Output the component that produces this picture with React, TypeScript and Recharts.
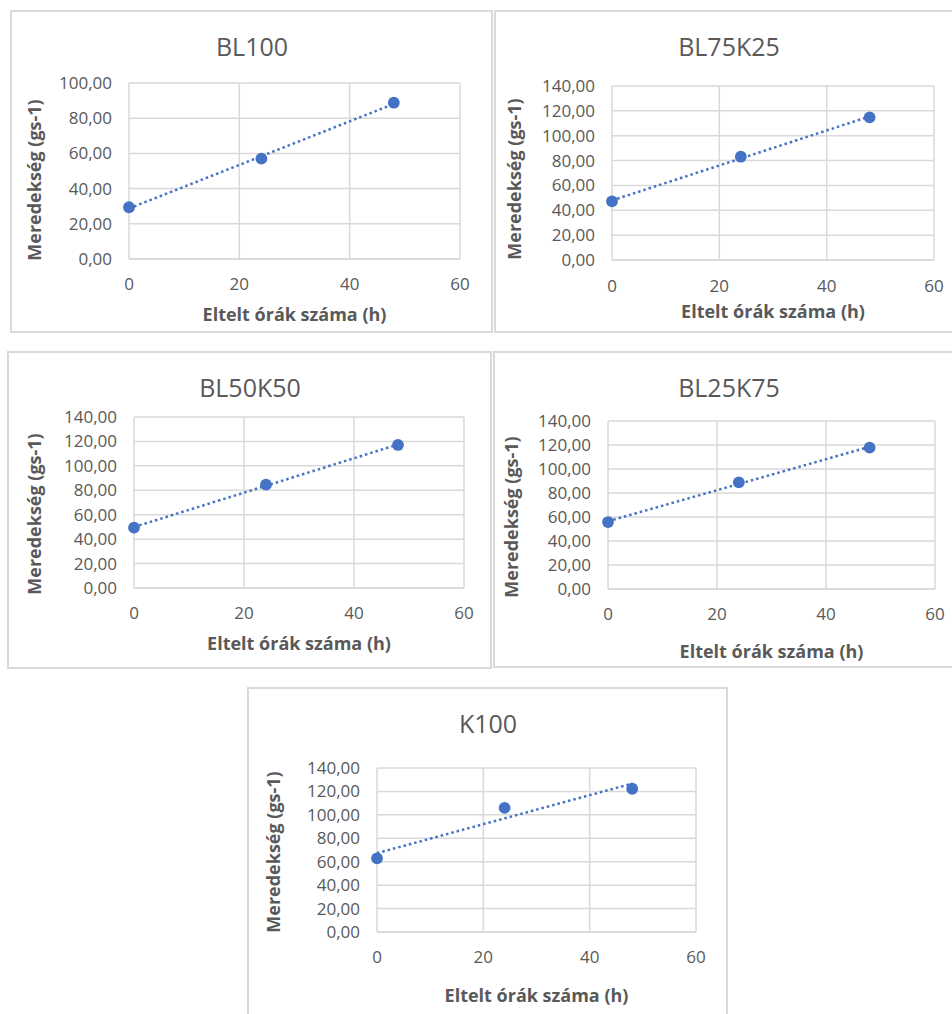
import React from "react";
import { ScatterChart, Scatter, XAxis, YAxis, CartesianGrid } from "recharts";

// Elapsed hours and measured slopes per blend
const hours = [0, 24, 48];
const bl100 = [29.4, 57.0, 88.8];
const bl75k25 = [47.2, 83.1, 114.8];
const bl50k50 = [49.4, 84.6, 117.1];
const bl25k75 = [55.8, 88.9, 117.8];
const k100 = [62.9, 105.9, 122.3];

// Linear trendline values at the first and last hour
const trendHours = [0, 48];
const bl100Trend = [28.7, 88.1];
const bl75k25Trend = [47.9, 115.5];
const bl50k50Trend = [49.9, 117.5];
const bl25k75Trend = [56.5, 118.5];
const k100Trend = [67.3, 126.7];

const xTicks = [0, 20, 40, 60];
const yTicks100 = [0, 20, 40, 60, 80, 100];
const yTicks140 = [0, 20, 40, 60, 80, 100, 120, 140];

const xTitle = "Eltelt órák száma (h)";
const yTitle = "Meredekség (gs-1)";

const BLUE = "#4472C4";
const GREY = "#595959";
const GRID = "#D9D9D9";
const FONT = "'Open Sans', sans-serif";

const Y_AXIS_W = 80;
const X_AXIS_H = 40;

type Rect = { x: number; y: number; w: number; h: number };

type Props = {
  title: string;
  values: number[];
  trend: number[];
  yTicks: number[];
  frame: Rect;
  plot: Rect;
  titlePos: [number, number];
  xTitleY: number;
  yLabelPos: [number, number];
  xTickGap?: number;
};

const fmt = (v: number) => v.toFixed(2).replace(".", ",");

function Panel({ title, values, trend, yTicks, frame, plot, titlePos, xTitleY, yLabelPos, xTickGap = 19 }: Props) {
  const points = hours.map((h, i) => ({ x: h, y: values[i] }));
  const trendPts = trendHours.map((h, i) => ({ x: h, y: trend[i] }));
  const margin = {
    top: plot.y - frame.y,
    left: plot.x - frame.x - Y_AXIS_W,
    right: frame.x + frame.w - (plot.x + plot.w),
    bottom: frame.y + frame.h - (plot.y + plot.h) - X_AXIS_H,
  };
  const tick = { fontSize: 17, fill: GREY, fontFamily: FONT };
  const textStyle = {
    position: "absolute" as const,
    fontFamily: FONT,
    lineHeight: 1,
    color: GREY,
    whiteSpace: "nowrap" as const,
  };
  return (
    <>
      <div
        style={{
          position: "absolute",
          left: frame.x,
          top: frame.y,
          width: frame.w,
          height: frame.h,
          border: `2px solid ${GRID}`,
          boxSizing: "border-box",
          background: "#fff",
        }}
      />
      <div style={{ position: "absolute", left: frame.x, top: frame.y }}>
        <ScatterChart width={frame.w} height={frame.h} margin={margin}>
          <CartesianGrid stroke={GRID} strokeWidth={1.5} />
          <XAxis
            type="number"
            dataKey="x"
            domain={[0, 60]}
            ticks={xTicks}
            height={X_AXIS_H}
            tick={tick}
            tickLine={false}
            tickSize={0}
            tickMargin={xTickGap}
            axisLine={{ stroke: GRID, strokeWidth: 1.5 }}
            interval={0}
          />
          <YAxis
            type="number"
            dataKey="y"
            domain={[0, yTicks[yTicks.length - 1]]}
            ticks={yTicks}
            width={Y_AXIS_W}
            tick={tick}
            tickFormatter={fmt}
            tickLine={false}
            tickSize={0}
            tickMargin={17}
            axisLine={false}
            interval={0}
          />
          <Scatter
            data={trendPts}
            isAnimationActive={false}
            line={{ stroke: BLUE, strokeWidth: 2.5, strokeDasharray: "2.5 3" }}
            lineType="joint"
            shape={() => <g />}
          />
          <Scatter
            data={points}
            isAnimationActive={false}
            shape={(p: any) => <circle cx={p.cx} cy={p.cy} r={5.9} fill={BLUE} />}
          />
        </ScatterChart>
      </div>
      <div
        style={{
          ...textStyle,
          left: titlePos[0],
          top: titlePos[1],
          transform: "translate(-50%, -50%)",
          fontSize: 25,
        }}
      >
        {title}
      </div>
      <div
        style={{
          ...textStyle,
          left: plot.x + plot.w / 2,
          top: xTitleY,
          transform: "translate(-50%, -50%)",
          fontSize: 18,
          fontWeight: 700,
        }}
      >
        {xTitle}
      </div>
      <div
        style={{
          ...textStyle,
          left: yLabelPos[0],
          top: yLabelPos[1],
          transform: "translate(-50%, -50%) rotate(-90deg)",
          fontSize: 18,
          fontWeight: 700,
        }}
      >
        {yTitle}
      </div>
    </>
  );
}

export default function App() {
  return (
    <div
      style={{
        position: "absolute",
        left: 0,
        top: 0,
        width: 952,
        height: 1014,
        overflow: "hidden",
        background: "#fff",
      }}
    >
      <Panel
        title="BL100"
        values={bl100}
        trend={bl100Trend}
        yTicks={yTicks100}
        frame={{ x: 10, y: 10, w: 483, h: 323 }}
        plot={{ x: 129, y: 83, w: 331, h: 176 }}
        titlePos={[252, 46]}
        xTitleY={314}
        yLabelPos={[34, 180]}
      />
      <Panel
        title="BL75K25"
        values={bl75k25}
        trend={bl75k25Trend}
        yTicks={yTicks140}
        frame={{ x: 494, y: 10, w: 465, h: 323 }}
        plot={{ x: 612, y: 86, w: 322, h: 174 }}
        titlePos={[729, 46]}
        xTitleY={311}
        yLabelPos={[514, 179]}
        xTickGap={20}
      />
      <Panel
        title="BL50K50"
        values={bl50k50}
        trend={bl50k50Trend}
        yTicks={yTicks140}
        frame={{ x: 7, y: 351, w: 485, h: 318 }}
        plot={{ x: 134, y: 417, w: 330, h: 171 }}
        titlePos={[250, 387]}
        xTitleY={643}
        yLabelPos={[34, 514]}
      />
      <Panel
        title="BL25K75"
        values={bl25k75}
        trend={bl25k75Trend}
        yTicks={yTicks140}
        frame={{ x: 493, y: 351, w: 465, h: 317 }}
        plot={{ x: 608, y: 421, w: 327, h: 168 }}
        titlePos={[729, 387]}
        xTitleY={651}
        yLabelPos={[511, 517]}
      />
      <Panel
        title="K100"
        values={k100}
        trend={k100Trend}
        yTicks={yTicks140}
        frame={{ x: 247, y: 687, w: 481, h: 340 }}
        plot={{ x: 377, y: 768, w: 319, h: 164 }}
        titlePos={[488, 723]}
        xTitleY={995}
        yLabelPos={[273, 852]}
      />
    </div>
  );
}
